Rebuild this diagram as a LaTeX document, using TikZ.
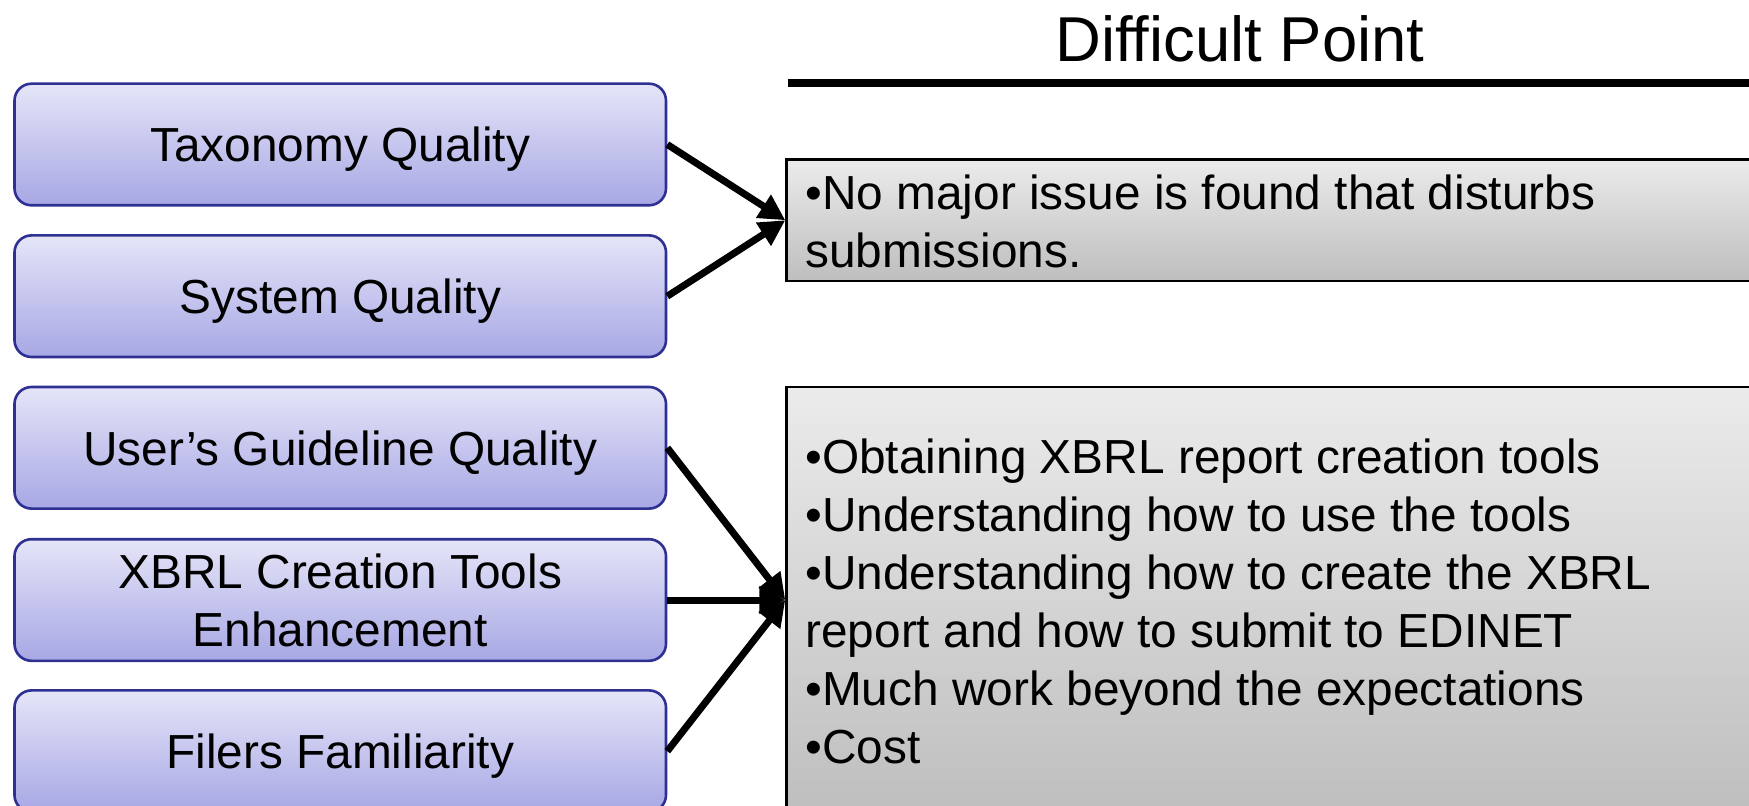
\documentclass[tikz,border=0pt]{standalone}
\usepackage{fontspec}
\setmainfont{Liberation Sans}
\usetikzlibrary{arrows.meta}
\definecolor{bluetop}{RGB}{229,229,248}
\definecolor{bluebot}{RGB}{167,167,229}
\definecolor{blueedge}{RGB}{46,49,146}
\definecolor{greytop}{RGB}{235,235,235}
\definecolor{greybot}{RGB}{190,190,190}
\newcommand{\myBody}{\fontsize{23.9pt}{29pt}\selectfont}
\newcommand{\myTitle}{\fontsize{31.7pt}{38pt}\selectfont}
\tikzset{
  factor/.style={draw=blueedge, line width=1.3pt, rounded corners=8.5pt,
    top color=bluetop, bottom color=bluebot,
    minimum width=325.75pt, minimum height=60.8pt, inner sep=0pt,
    align=center, font=\myBody},
  oneline/.style={text height=22.5pt, text depth=5pt},
  greybox/.style={draw=black, line width=1.1pt, top color=greytop, bottom color=greybot,
    inner sep=0pt},
  bodytext/.style={anchor=north west, inner sep=0pt, align=left, font=\myBody},
  conn/.style={line width=3.5pt, -{Triangle[length=13pt,width=13pt]}},
}
\begin{document}
\begin{tikzpicture}[x=0.5pt,y=-0.5pt]
\useasboundingbox (0,0) rectangle (1749,806);
\fill[white] (0,0) rectangle (1749,806);
% title and rule
\node[font=\myTitle, inner sep=0pt] (title) at (1240,39) {Difficult Point};
\coordinate (r0) at (787.5,83);
\coordinate (r1) at (1760,83);
\draw[line width=4pt] (r0) -- (r1);
% left factors
\node[factor, oneline] (b1) at (340.25,144.5) {Taxonomy Quality};
\node[factor, oneline] (b2) at (340.25,296.2) {System Quality};
\node[factor, oneline] (b3) at (340.25,447.8) {User’s Guideline Quality};
\node[factor] (b4) at (340.25,600) {XBRL Creation Tools\\Enhancement};
\node[factor, oneline] (b5) at (340.25,751.2) {Filers Familiarity};
% grey boxes
\node[greybox, minimum width=506.8pt, minimum height=60.75pt] (g1) at (1293.2,220.25) {};
\node[greybox, minimum width=506.8pt, minimum height=213pt] (g2) at (1293.2,600) {};
\node[bodytext] (t1) at (805,174) {•No major issue is found that disturbs\\submissions.};
\node[bodytext] (t2) at (805,438) {•Obtaining XBRL report creation tools\\•Understanding how to use the tools\\•Understanding how to create the XBRL\\report and how to submit to EDINET\\•Much work beyond the expectations\\•Cost};
% connectors
\draw[conn] (b1.east) -- (g1.west);
\draw[conn] (b2.east) -- (g1.west);
\draw[conn] (b3.east) -- (g2.west);
\draw[conn] (b4.east) -- (g2.west);
\draw[conn] (b5.east) -- (g2.west);
\end{tikzpicture}
\end{document}
